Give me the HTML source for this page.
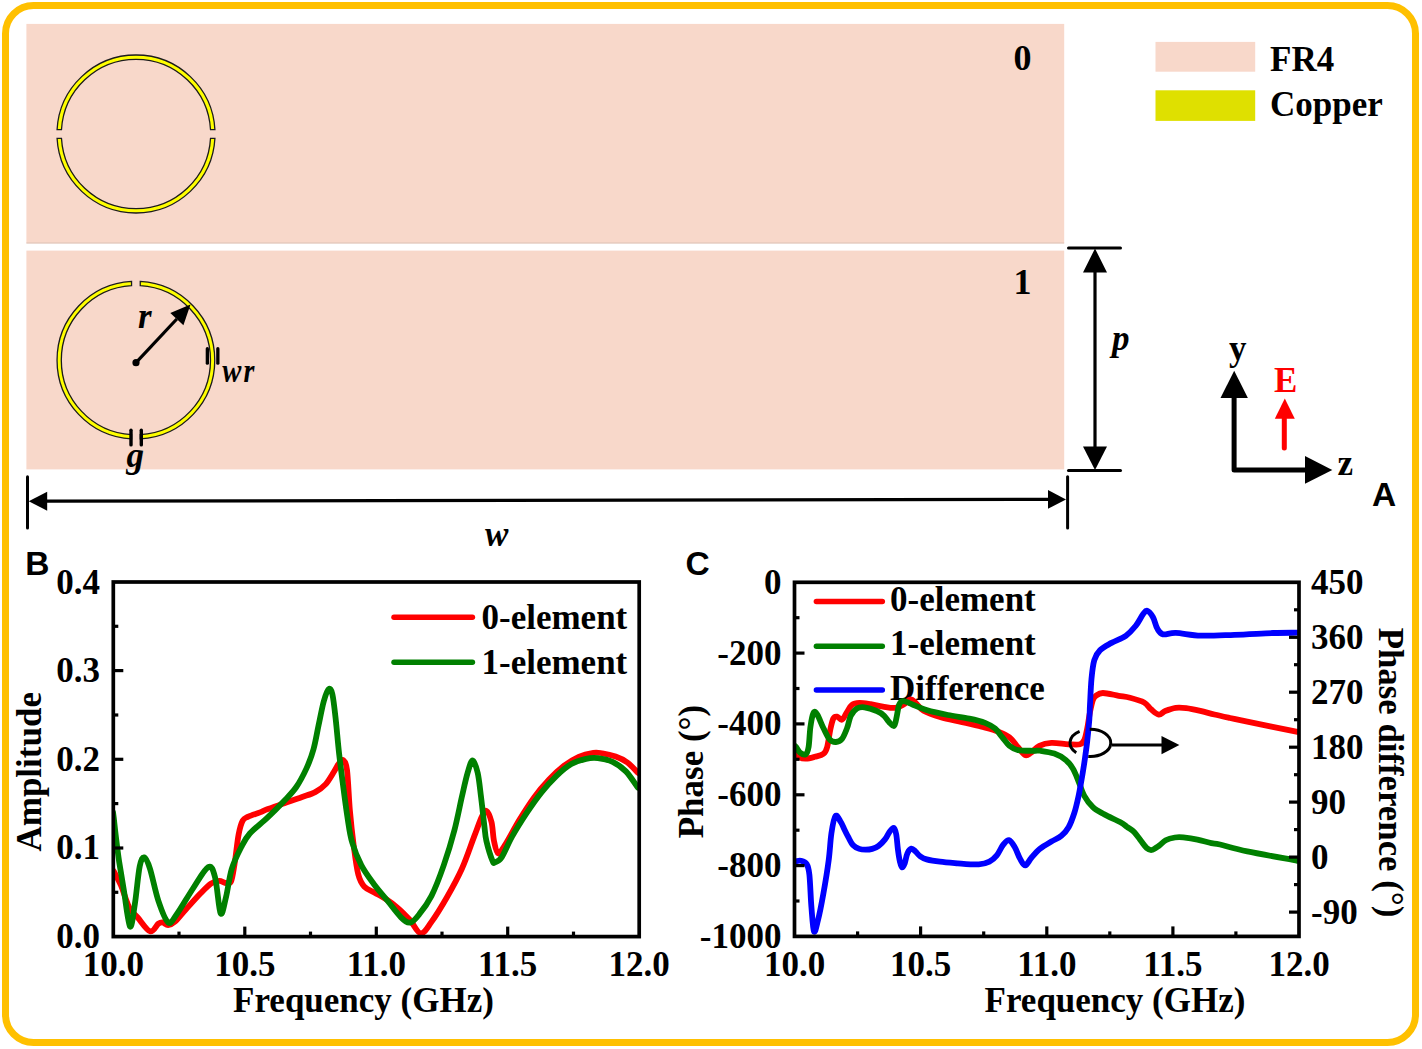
<!DOCTYPE html>
<html><head><meta charset="utf-8"><title>Figure</title><style>
html,body{margin:0;padding:0;background:#fff;width:1422px;height:1049px;overflow:hidden}
svg{display:block}
text{font-family:'Liberation Serif',serif;font-weight:bold}
</style></head><body>
<svg width="1422" height="1049" viewBox="0 0 1422 1049">
<rect x="5.5" y="5.5" width="1410" height="1037" rx="28" ry="28" fill="none" stroke="#FFC000" stroke-width="7"/>
<rect x="26.4" y="23.9" width="1037.8" height="219.4" fill="#F8D8CA"/>
<rect x="26.4" y="250.6" width="1037.8" height="218.8" fill="#F8D8CA"/>
<line x1="26.4" y1="243.0" x2="1064.2" y2="243.0" stroke="#dcc2b6" stroke-width="1"/>
<path d="M214.93 138.30 A79.05 79.05 0 0 1 57.07 138.30 L61.47 138.30 A74.65 74.65 0 0 0 210.53 138.30 Z" fill="#FFFF00" stroke="#1c1c1c" stroke-width="1.3"/><path d="M57.07 129.70 A79.05 79.05 0 0 1 214.93 129.70 L210.53 129.70 A74.65 74.65 0 0 0 61.47 129.70 Z" fill="#FFFF00" stroke="#1c1c1c" stroke-width="1.3"/>
<path d="M131.55 438.93 A78.85 78.85 0 0 1 131.55 281.47 L131.55 285.68 A74.65 74.65 0 0 0 131.55 434.72 Z" fill="#FFFF00" stroke="#1c1c1c" stroke-width="1.3"/><path d="M140.25 281.47 A78.85 78.85 0 0 1 140.25 438.93 L140.25 434.72 A74.65 74.65 0 0 0 140.25 285.68 Z" fill="#FFFF00" stroke="#1c1c1c" stroke-width="1.3"/>
<rect x="129.3" y="428.6" width="3.4" height="18" fill="#000" rx="1.7"/>
<rect x="139.6" y="428.6" width="3.4" height="18" fill="#000" rx="1.7"/>
<rect x="205.7" y="347.1" width="3.3" height="17.7" fill="#000" rx="1.6"/>
<rect x="216.2" y="347.1" width="3.3" height="17.7" fill="#000" rx="1.6"/>
<line x1="136" y1="362.7" x2="176.8" y2="319.0" stroke="#000" stroke-width="3.2"/>
<polygon points="190.5,304.4 183.4,325.2 170.3,312.9" fill="#000"/>
<circle cx="136" cy="362.7" r="3.6" fill="#000"/>
<text x="138" y="328" text-anchor="start" fill="#000" style="font-size:35px;font-style:italic" >r</text>
<text x="0" y="0" text-anchor="start" fill="#000" style="font-size:35px;font-style:italic" transform="translate(222.3,381.5) scale(0.82,0.98)">w</text>
<text x="0" y="0" text-anchor="start" fill="#000" style="font-size:35px;font-style:italic" transform="translate(243.5,381.5) scale(0.8,0.98)">r</text>
<text x="126.5" y="467" text-anchor="start" fill="#000" style="font-size:35px;font-style:italic" >g</text>
<text x="1013.5" y="69.5" text-anchor="start" fill="#000" style="font-size:36px;" >0</text>
<text x="1013.5" y="294" text-anchor="start" fill="#000" style="font-size:36px;" >1</text>
<text x="485" y="546" text-anchor="start" fill="#000" style="font-size:35px;font-style:italic" >w</text>
<text x="1112" y="350" text-anchor="start" fill="#000" style="font-size:35px;font-style:italic" >p</text>
<rect x="1155.5" y="41.9" width="99.7" height="29.8" fill="#F8D8CA"/>
<rect x="1155.5" y="90.3" width="99.7" height="30.6" fill="#DFE000"/>
<text x="1270" y="70.6" text-anchor="start" fill="#000" style="font-size:35px;" >FR4</text>
<text x="1270" y="116" text-anchor="start" fill="#000" style="font-size:35px;" >Copper</text>
<line x1="1068.5" y1="248.1" x2="1120.5" y2="248.1" stroke="#000" stroke-width="3" stroke-linecap="round"/>
<line x1="1068.5" y1="470.4" x2="1120.5" y2="470.4" stroke="#000" stroke-width="3" stroke-linecap="round"/>
<line x1="1095" y1="270" x2="1095" y2="448" stroke="#000" stroke-width="3.2"/>
<polygon points="1095,248.5 1083,272.6 1107,272.6" fill="#000"/>
<polygon points="1095,470 1083,446.4 1107,446.4" fill="#000"/>
<line x1="27.5" y1="476.7" x2="27.5" y2="528" stroke="#000" stroke-width="3" stroke-linecap="round"/>
<line x1="1067.6" y1="476.7" x2="1067.6" y2="528" stroke="#000" stroke-width="3" stroke-linecap="round"/>
<line x1="45" y1="501.2" x2="1050" y2="499.4" stroke="#000" stroke-width="3.2"/>
<polygon points="28.7,501.2 47.2,491.8 47.2,510.7" fill="#000"/>
<polygon points="1066,499.4 1048,490 1048,508.7" fill="#000"/>
<polyline points="1234.1,396 1234.1,469.9 1307,469.9" fill="none" stroke="#000" stroke-width="5" stroke-linejoin="round"/>
<polygon points="1234.2,370.8 1220.5,398 1247.9,398" fill="#000"/>
<polygon points="1332.3,469.9 1305,456 1305,483.7" fill="#000"/>
<text x="1229" y="360" text-anchor="start" fill="#000" style="font-size:35px;" >y</text>
<text x="1337.5" y="474.5" text-anchor="start" fill="#000" style="font-size:35px;" >z</text>
<text x="1274" y="391.6" text-anchor="start" fill="#FF0000" style="font-size:35px;" >E</text>
<line x1="1284.3" y1="448" x2="1284.3" y2="416" stroke="#FF0000" stroke-width="5" stroke-linecap="round"/>
<polygon points="1284.8,398.5 1274.8,418.8 1294.8,418.8" fill="#FF0000"/>
<text x="1372" y="506" style="font-family:'Liberation Sans',sans-serif;font-weight:bold;font-size:33.5px" fill="#000">A</text>
<text x="25.3" y="575" style="font-family:'Liberation Sans',sans-serif;font-weight:bold;font-size:33.5px" fill="#000">B</text>
<text x="685.6" y="574.6" style="font-family:'Liberation Sans',sans-serif;font-weight:bold;font-size:33.5px" fill="#000">C</text>
<text x="100" y="948.1" text-anchor="end" fill="#000" style="font-size:35px;" >0.0</text>
<text x="100" y="859.45" text-anchor="end" fill="#000" style="font-size:35px;" >0.1</text>
<text x="100" y="770.8000000000001" text-anchor="end" fill="#000" style="font-size:35px;" >0.2</text>
<text x="100" y="682.15" text-anchor="end" fill="#000" style="font-size:35px;" >0.3</text>
<text x="100" y="593.5" text-anchor="end" fill="#000" style="font-size:35px;" >0.4</text>
<text x="113.3" y="976" text-anchor="middle" fill="#000" style="font-size:35px;" >10.0</text>
<text x="244.8" y="976" text-anchor="middle" fill="#000" style="font-size:35px;" >10.5</text>
<text x="376.3" y="976" text-anchor="middle" fill="#000" style="font-size:35px;" >11.0</text>
<text x="507.7" y="976" text-anchor="middle" fill="#000" style="font-size:35px;" >11.5</text>
<text x="639.2" y="976" text-anchor="middle" fill="#000" style="font-size:35px;" >12.0</text>
<text x="363.5" y="1012.2" text-anchor="middle" fill="#000" style="font-size:35px;" >Frequency (GHz)</text>
<text x="0" y="0" text-anchor="middle" fill="#000" style="font-size:35px;" transform="translate(41,771.8) rotate(-90)">Amplitude</text>
<text x="781.4" y="593.8" text-anchor="end" fill="#000" style="font-size:35px;" >0</text>
<text x="781.4" y="664.6" text-anchor="end" fill="#000" style="font-size:35px;" >-200</text>
<text x="781.4" y="735.4" text-anchor="end" fill="#000" style="font-size:35px;" >-400</text>
<text x="781.4" y="806.3" text-anchor="end" fill="#000" style="font-size:35px;" >-600</text>
<text x="781.4" y="877.1" text-anchor="end" fill="#000" style="font-size:35px;" >-800</text>
<text x="781.4" y="947.9" text-anchor="end" fill="#000" style="font-size:35px;" >-1000</text>
<text x="1311" y="593.8" text-anchor="start" fill="#000" style="font-size:35px;" >450</text>
<text x="1311" y="648.8" text-anchor="start" fill="#000" style="font-size:35px;" >360</text>
<text x="1311" y="703.7" text-anchor="start" fill="#000" style="font-size:35px;" >270</text>
<text x="1311" y="758.7" text-anchor="start" fill="#000" style="font-size:35px;" >180</text>
<text x="1311" y="813.6" text-anchor="start" fill="#000" style="font-size:35px;" >90</text>
<text x="1311" y="868.6" text-anchor="start" fill="#000" style="font-size:35px;" >0</text>
<text x="1311" y="923.6" text-anchor="start" fill="#000" style="font-size:35px;" >-90</text>
<text x="794.5" y="976" text-anchor="middle" fill="#000" style="font-size:35px;" >10.0</text>
<text x="920.6" y="976" text-anchor="middle" fill="#000" style="font-size:35px;" >10.5</text>
<text x="1046.8" y="976" text-anchor="middle" fill="#000" style="font-size:35px;" >11.0</text>
<text x="1172.9" y="976" text-anchor="middle" fill="#000" style="font-size:35px;" >11.5</text>
<text x="1299.0" y="976" text-anchor="middle" fill="#000" style="font-size:35px;" >12.0</text>
<text x="1115" y="1012.2" text-anchor="middle" fill="#000" style="font-size:35px;" >Frequency (GHz)</text>
<text x="0" y="0" text-anchor="middle" fill="#000" style="font-size:35px;" transform="translate(703,771.5) rotate(-90)">Phase (°)</text>
<text x="0" y="0" text-anchor="middle" fill="#000" style="font-size:34.8px;" transform="translate(1379.2,772.5) rotate(90)">Phase difference (°)</text>
<line x1="394" y1="617.3" x2="472.4" y2="617.3" stroke="#FF0000" stroke-width="5.5" stroke-linecap="round"/>
<line x1="394" y1="662.3" x2="472.4" y2="662.3" stroke="#008000" stroke-width="5.5" stroke-linecap="round"/>
<text x="481.5" y="628.8" text-anchor="start" fill="#000" style="font-size:35px;" >0-element</text>
<text x="481.5" y="673.6" text-anchor="start" fill="#000" style="font-size:35px;" >1-element</text>
<line x1="816.4" y1="601.6" x2="882.3" y2="601.6" stroke="#FF0000" stroke-width="5.5" stroke-linecap="round"/>
<line x1="816.4" y1="646.2" x2="882.3" y2="646.2" stroke="#008000" stroke-width="5.5" stroke-linecap="round"/>
<line x1="816.4" y1="690.1" x2="882.3" y2="690.1" stroke="#0000FF" stroke-width="5.5" stroke-linecap="round"/>
<text x="890" y="611.1" text-anchor="start" fill="#000" style="font-size:35px;" >0-element</text>
<text x="890" y="655.3" text-anchor="start" fill="#000" style="font-size:35px;" >1-element</text>
<text x="890" y="699.8" text-anchor="start" fill="#000" style="font-size:35px;" >Difference</text>
<clipPath id="cb"><rect x="113.3" y="582" width="525.9000000000001" height="354.6"/></clipPath><clipPath id="cc"><rect x="794.5" y="582.3" width="504.5" height="354.1"/></clipPath>
<path clip-path="url(#cb)" d="M112.5 870.5 C112.8 870.7 112.7 869.4 114.1 871.9 C115.5 874.4 118.5 879.7 121.1 885.7 C123.6 891.7 126.6 902.5 129.4 907.8 C132.2 913.1 134.2 913.6 137.7 917.5 C141.1 921.4 146.6 930.3 150.1 931.3 C153.6 932.3 156.3 925.2 158.4 923.7 C160.5 922.2 160.9 922.2 162.5 922.4 C164.1 922.6 166.0 925.2 168.1 925.1 C170.2 925.0 172.0 924.4 175.0 921.7 C178.0 919.1 181.8 913.8 186.0 909.2 C190.2 904.6 195.8 898.3 199.9 894.0 C204.1 889.7 207.7 885.8 210.9 883.6 C214.1 881.4 216.7 881.0 219.2 880.9 C221.7 880.8 224.1 882.9 226.1 883.0 C228.1 883.1 229.6 884.6 231.0 881.6 C232.4 878.6 233.1 872.8 234.4 865.0 C235.7 857.2 237.2 842.0 238.6 834.6 C240.0 827.2 241.1 823.7 242.7 820.7 C244.3 817.7 245.4 818.0 248.3 816.6 C251.2 815.2 256.9 813.6 260.0 812.4 C263.1 811.2 263.1 810.8 267.2 809.3 C271.2 807.8 278.6 805.3 284.3 803.3 C290.0 801.3 296.4 799.2 301.5 797.3 C306.6 795.4 311.2 794.2 315.2 792.1 C319.2 790.0 322.4 787.8 325.5 784.4 C328.6 781.0 331.8 775.1 334.1 771.5 C336.4 767.9 337.6 764.9 339.2 763.0 C340.8 761.1 342.2 759.3 343.5 760.4 C344.8 761.5 345.9 761.4 347.0 769.8 C348.1 778.1 348.8 797.9 349.9 810.5 C351.0 823.1 352.3 834.9 353.7 845.6 C355.1 856.3 356.5 867.7 358.3 874.6 C360.1 881.5 361.6 883.8 364.4 886.8 C367.2 889.8 371.5 890.9 375.1 892.9 C378.7 894.9 382.0 896.5 385.8 899.0 C389.6 901.5 393.9 904.6 398.0 908.1 C402.1 911.6 406.4 916.1 410.2 920.3 C414.0 924.5 417.2 933.0 420.8 933.3 C424.4 933.6 427.2 927.9 431.5 921.9 C435.8 915.9 441.7 906.4 446.8 897.5 C451.9 888.6 457.4 878.7 462.0 868.5 C466.6 858.3 470.9 845.0 474.2 836.4 C477.5 827.8 479.8 820.8 481.9 816.6 C483.9 812.4 484.9 810.1 486.5 811.0 C488.1 811.9 490.2 817.0 491.5 822.0 C492.8 827.0 492.9 835.8 494.0 841.0 C495.1 846.2 496.3 852.7 498.1 853.4 C499.9 854.1 501.2 851.0 504.8 845.4 C508.4 839.8 514.7 827.6 519.6 819.6 C524.5 811.6 529.4 803.9 534.3 797.2 C539.2 790.5 544.2 784.8 549.1 779.6 C554.0 774.4 559.0 769.7 563.9 765.9 C568.8 762.1 573.8 759.0 578.7 756.8 C583.6 754.6 589.5 753.4 593.4 752.8 C597.3 752.2 598.6 752.7 602.3 753.3 C606.0 753.9 611.4 755.1 615.6 756.6 C619.8 758.1 623.7 759.8 627.4 762.5 C631.1 765.2 636.1 771.1 637.8 772.8" fill="none" stroke="#FF0000" stroke-width="5.8" stroke-linejoin="round" stroke-linecap="round"/>
<path clip-path="url(#cb)" d="M113.0 812.0 C113.1 813.0 113.2 813.3 113.8 818.0 C114.3 822.7 115.4 832.7 116.3 840.0 C117.2 847.3 118.0 853.7 119.2 862.0 C120.5 870.3 122.0 879.1 123.8 889.9 C125.6 900.6 128.2 924.2 130.0 926.5 C131.8 928.8 133.3 913.7 134.9 903.7 C136.5 893.7 138.1 874.1 139.7 866.4 C141.3 858.7 142.6 856.9 144.3 857.4 C146.0 857.9 147.8 861.9 150.1 869.1 C152.4 876.4 155.4 892.0 158.4 900.9 C161.4 909.8 165.1 920.1 168.1 922.4 C171.1 924.7 172.2 920.4 176.4 914.8 C180.6 909.1 187.7 896.5 193.0 888.5 C198.3 880.5 204.5 869.0 208.2 867.1 C211.9 865.2 213.0 869.7 215.1 877.4 C217.2 885.1 218.8 910.2 220.6 913.4 C222.4 916.6 224.2 904.2 226.1 896.8 C227.9 889.4 229.2 877.4 231.7 869.1 C234.2 860.8 238.2 853.0 241.3 847.0 C244.4 841.0 245.7 838.1 250.0 833.3 C254.3 828.4 261.5 823.3 267.2 817.9 C272.9 812.5 279.4 805.9 284.3 800.7 C289.2 795.6 292.6 792.4 296.3 787.0 C300.0 781.6 303.7 774.4 306.6 768.1 C309.5 761.8 311.5 756.4 313.5 749.2 C315.5 742.1 316.9 733.2 318.6 725.2 C320.3 717.2 322.1 707.2 323.8 701.2 C325.5 695.2 327.2 690.4 328.6 689.2 C330.0 688.1 331.2 689.1 332.4 694.3 C333.6 699.4 334.7 710.1 335.8 720.1 C336.9 730.1 337.9 743.0 339.2 754.4 C340.5 765.8 342.1 777.8 343.5 788.7 C344.9 799.6 346.4 810.6 347.8 819.6 C349.2 828.6 349.9 834.9 352.2 842.5 C354.5 850.1 357.8 858.5 361.4 865.4 C365.0 872.3 369.3 877.9 373.6 883.7 C377.9 889.6 382.7 894.9 387.3 900.5 C391.9 906.1 397.2 913.6 401.0 917.3 C404.8 921.0 407.1 923.1 410.2 922.6 C413.2 922.1 415.8 918.7 419.3 914.2 C422.9 909.8 427.4 904.0 431.5 895.9 C435.6 887.8 439.9 876.3 443.7 865.4 C447.5 854.5 451.4 841.8 454.4 830.3 C457.4 818.8 459.7 806.3 461.9 796.7 C464.1 787.1 465.8 778.9 467.6 772.9 C469.4 766.9 470.9 760.5 472.6 760.5 C474.3 760.5 476.3 766.9 477.7 772.9 C479.1 778.9 479.9 788.0 481.0 796.7 C482.1 805.4 483.4 817.9 484.3 825.3 C485.2 832.7 485.0 835.1 486.4 841.0 C487.8 846.9 491.0 857.3 492.5 860.8 C494.0 864.3 493.6 862.8 495.2 862.2 C496.8 861.6 499.0 861.4 501.8 857.1 C504.6 852.8 508.0 843.8 512.2 836.4 C516.4 829.0 522.0 820.1 526.9 812.7 C531.8 805.3 536.8 798.2 541.7 792.1 C546.6 786.0 551.6 780.5 556.5 775.8 C561.4 771.1 566.4 766.8 571.3 764.0 C576.2 761.2 581.6 759.8 586.0 758.8 C590.4 757.8 593.5 757.6 597.9 758.1 C602.3 758.6 607.9 759.6 612.6 761.8 C617.3 764.0 621.7 767.1 625.9 771.4 C630.1 775.7 635.8 784.9 637.8 787.6" fill="none" stroke="#008000" stroke-width="5.8" stroke-linejoin="round" stroke-linecap="round"/>
<path clip-path="url(#cc)" d="M793.0 750.8 C793.5 751.1 794.9 751.4 796.0 752.5 C797.1 753.6 798.2 756.5 799.9 757.5 C801.6 758.5 803.6 758.8 806.1 758.7 C808.6 758.6 811.9 757.6 814.8 756.8 C817.7 756.0 821.4 755.4 823.5 753.7 C825.6 752.1 826.1 750.9 827.2 746.9 C828.3 742.9 829.3 734.4 830.3 729.6 C831.3 724.9 832.3 720.6 833.4 718.4 C834.5 716.2 835.7 716.4 837.1 716.6 C838.5 716.8 840.4 720.4 842.0 719.7 C843.6 719.0 845.3 714.7 847.0 712.2 C848.7 709.7 849.9 706.3 852.0 704.8 C854.1 703.2 856.3 703.0 859.4 702.9 C862.5 702.8 866.7 703.6 870.6 704.2 C874.5 704.8 878.8 706.0 882.9 706.6 C887.0 707.2 891.8 708.3 895.3 707.9 C898.8 707.5 901.5 705.6 904.0 704.2 C906.5 702.8 908.4 699.6 910.5 699.5 C912.6 699.4 914.2 701.7 916.4 703.6 C918.6 705.5 919.5 708.4 923.6 710.7 C927.7 713.0 934.4 715.3 940.8 717.2 C947.2 719.1 955.1 720.5 962.2 722.2 C969.4 723.9 977.7 725.7 983.7 727.2 C989.7 728.8 993.7 729.8 998.0 731.5 C1002.3 733.2 1006.1 734.6 1009.4 737.2 C1012.7 739.8 1015.4 744.2 1018.0 747.2 C1020.6 750.2 1023.0 754.2 1025.1 755.1 C1027.2 756.0 1028.4 754.5 1030.8 752.9 C1033.2 751.3 1036.0 747.5 1039.4 745.8 C1042.8 744.1 1046.5 743.1 1051.4 742.9 C1056.3 742.6 1063.8 744.1 1068.6 744.3 C1073.4 744.5 1077.4 745.0 1080.0 744.3 C1082.6 743.6 1083.1 742.6 1084.3 740.0 C1085.5 737.4 1086.2 733.3 1087.2 728.6 C1088.2 723.9 1089.0 716.8 1090.0 712.0 C1091.0 707.2 1091.9 702.7 1092.9 700.0 C1093.9 697.3 1094.1 697.0 1095.8 695.8 C1097.5 694.6 1099.1 693.0 1102.9 693.0 C1106.7 693.0 1114.2 695.0 1118.7 695.8 C1123.2 696.6 1125.8 696.7 1130.0 697.8 C1134.2 698.9 1140.6 700.6 1144.1 702.5 C1147.6 704.4 1148.6 707.3 1151.1 709.3 C1153.5 711.3 1156.4 714.3 1158.8 714.6 C1161.2 714.9 1162.4 712.1 1165.2 711.0 C1168.0 709.9 1172.2 708.3 1175.7 707.8 C1179.2 707.3 1182.2 707.6 1186.3 708.1 C1190.4 708.6 1195.6 709.8 1200.3 710.9 C1205.0 712.0 1209.5 713.3 1214.4 714.5 C1219.4 715.7 1224.5 716.8 1230.0 718.0 C1235.5 719.2 1236.0 719.3 1247.3 721.6 C1258.5 723.9 1289.1 730.2 1297.5 731.9" fill="none" stroke="#FF0000" stroke-width="5.8" stroke-linejoin="round" stroke-linecap="round"/>
<path clip-path="url(#cc)" d="M793.0 744.5 C793.5 744.9 794.9 745.6 796.0 746.9 C797.1 748.2 798.3 751.2 799.9 752.5 C801.5 753.8 804.0 755.3 805.5 754.4 C807.0 753.5 807.8 751.4 808.6 746.9 C809.4 742.4 809.6 732.8 810.4 727.1 C811.2 721.4 812.4 714.9 813.5 712.8 C814.6 710.7 815.6 712.1 817.3 714.7 C819.0 717.3 821.4 724.2 823.5 728.3 C825.6 732.4 827.6 737.2 829.7 739.5 C831.8 741.8 833.9 742.1 835.9 742.0 C837.9 741.9 840.1 741.2 842.0 738.9 C843.9 736.6 845.5 732.1 847.0 728.3 C848.5 724.5 849.1 719.2 850.7 715.9 C852.4 712.6 854.6 709.9 856.9 708.5 C859.2 707.1 861.1 706.9 864.4 707.3 C867.7 707.7 873.5 709.6 876.8 711.0 C880.1 712.4 882.2 714.0 884.2 715.9 C886.2 717.8 887.5 720.4 889.1 722.1 C890.8 723.8 892.9 726.7 894.1 725.9 C895.4 725.1 895.8 720.7 896.6 717.2 C897.4 713.7 898.1 707.5 899.1 704.8 C900.1 702.1 901.1 701.4 902.8 701.1 C904.4 700.8 907.2 702.2 909.0 702.9 C910.8 703.5 910.7 703.8 913.6 705.0 C916.5 706.2 920.8 708.3 926.5 710.0 C932.2 711.7 940.8 713.6 947.9 715.0 C955.0 716.4 963.1 717.3 969.3 718.6 C975.5 719.9 980.8 721.2 985.1 722.9 C989.4 724.6 992.2 726.2 995.1 728.6 C998.0 731.0 999.8 734.3 1002.2 737.2 C1004.6 740.1 1006.8 743.6 1009.4 745.8 C1012.0 747.9 1014.0 749.3 1018.0 750.1 C1022.0 750.9 1030.0 750.7 1033.7 750.8 C1037.4 750.9 1036.6 750.2 1040.0 750.7 C1043.4 751.2 1050.0 752.1 1054.3 753.6 C1058.6 755.1 1062.6 757.5 1065.7 760.0 C1068.8 762.5 1070.8 765.0 1072.9 768.6 C1075.1 772.2 1076.7 777.0 1078.6 781.5 C1080.5 786.0 1081.9 791.5 1084.3 795.8 C1086.7 800.1 1089.6 804.1 1092.9 807.2 C1096.2 810.3 1099.9 811.9 1104.4 814.4 C1108.9 816.9 1116.2 819.9 1120.0 822.0 C1123.8 824.1 1124.7 825.1 1127.0 826.8 C1129.3 828.4 1131.8 829.5 1134.1 831.9 C1136.4 834.3 1139.0 838.3 1141.1 841.0 C1143.2 843.7 1145.0 846.5 1146.7 848.0 C1148.5 849.5 1149.6 850.3 1151.6 850.0 C1153.6 849.7 1156.3 847.6 1158.7 846.0 C1161.1 844.4 1163.0 841.7 1165.7 840.3 C1168.4 838.9 1172.0 838.0 1174.9 837.5 C1177.8 837.0 1179.5 837.0 1183.3 837.4 C1187.0 837.8 1192.7 838.6 1197.4 839.6 C1202.1 840.6 1207.6 842.3 1211.4 843.1 C1215.2 843.9 1214.0 843.1 1220.0 844.5 C1226.0 845.9 1234.4 848.7 1247.3 851.4 C1260.2 854.1 1289.1 859.2 1297.5 860.8" fill="none" stroke="#008000" stroke-width="5.8" stroke-linejoin="round" stroke-linecap="round"/>
<path clip-path="url(#cc)" d="M793.0 861.6 C793.5 861.6 794.7 861.5 796.0 861.4 C797.3 861.2 798.9 860.2 800.7 860.7 C802.5 861.2 805.2 861.8 806.7 864.1 C808.2 866.4 808.6 867.6 809.4 874.7 C810.2 881.8 810.6 897.3 811.4 906.8 C812.2 916.3 812.9 929.3 814.0 931.5 C815.1 933.7 816.4 926.5 818.0 920.1 C819.6 913.8 821.6 903.4 823.4 893.4 C825.2 883.4 827.4 870.1 828.7 860.1 C830.0 850.1 830.3 840.8 831.4 833.4 C832.5 826.0 833.8 817.9 835.4 816.0 C837.0 814.1 839.2 819.6 840.7 821.8 C842.2 824.0 843.0 826.6 844.3 829.2 C845.6 831.9 847.2 835.1 848.6 837.7 C850.0 840.3 851.1 843.1 852.9 845.0 C854.7 846.9 857.2 848.1 859.3 848.9 C861.4 849.7 863.6 849.7 865.7 849.7 C867.9 849.7 870.1 849.5 872.2 848.9 C874.4 848.3 876.5 847.5 878.6 845.9 C880.7 844.3 883.2 841.7 885.0 839.4 C886.8 837.1 887.9 834.1 889.3 832.2 C890.7 830.3 892.5 827.5 893.6 827.9 C894.8 828.2 895.5 830.7 896.2 834.3 C896.9 837.9 897.3 844.7 897.9 849.3 C898.5 853.9 899.3 859.0 900.0 862.0 C900.7 865.0 901.2 867.2 902.0 867.4 C902.8 867.6 903.8 865.7 904.7 863.4 C905.6 861.1 906.3 855.8 907.4 853.4 C908.5 851.0 910.1 849.0 911.4 848.7 C912.7 848.4 914.0 850.2 915.4 851.4 C916.8 852.6 918.1 854.8 920.0 856.1 C921.9 857.4 923.4 858.5 926.7 859.4 C930.0 860.3 934.8 861.1 940.0 861.7 C945.2 862.4 951.2 862.8 957.7 863.3 C964.2 863.8 973.5 864.7 978.8 864.4 C984.1 864.1 986.4 863.2 989.4 861.7 C992.4 860.2 994.5 858.2 996.8 855.4 C999.1 852.6 1001.1 847.4 1003.1 844.9 C1005.1 842.4 1007.0 839.8 1008.9 840.1 C1010.8 840.5 1012.9 843.9 1014.7 847.0 C1016.6 850.1 1018.2 855.5 1020.0 858.6 C1021.8 861.7 1023.4 865.6 1025.3 865.4 C1027.2 865.2 1029.1 860.3 1031.6 857.5 C1034.0 854.7 1036.7 851.4 1040.0 848.7 C1043.3 846.0 1047.8 843.6 1051.4 841.5 C1055.0 839.4 1058.5 838.2 1061.4 835.8 C1064.3 833.4 1066.4 831.0 1068.6 827.2 C1070.8 823.4 1072.6 818.2 1074.3 813.0 C1076.0 807.8 1077.4 801.3 1078.6 795.8 C1079.8 790.3 1080.5 785.6 1081.5 780.1 C1082.5 774.6 1083.3 769.4 1084.3 762.9 C1085.2 756.4 1086.4 748.5 1087.2 741.4 C1088.0 734.2 1088.8 726.2 1089.3 720.0 C1089.8 713.8 1089.6 711.3 1090.0 704.4 C1090.4 697.5 1090.8 686.1 1091.5 678.7 C1092.2 671.3 1092.9 664.9 1094.3 660.1 C1095.7 655.3 1097.2 653.0 1100.1 650.1 C1103.0 647.2 1107.2 645.3 1111.5 642.9 C1115.8 640.5 1121.8 638.6 1125.8 635.8 C1129.8 632.9 1132.9 629.4 1135.8 625.8 C1138.7 622.2 1141.1 616.8 1143.0 614.3 C1144.9 611.8 1145.5 610.2 1147.2 610.7 C1148.9 611.2 1151.3 614.2 1153.0 617.2 C1154.7 620.2 1155.6 625.8 1157.3 628.6 C1159.0 631.5 1159.9 633.6 1163.0 634.3 C1166.1 635.0 1169.5 632.7 1175.8 632.9 C1182.1 633.1 1191.1 635.3 1200.9 635.6 C1210.7 635.9 1222.4 635.2 1234.4 634.8 C1246.4 634.4 1262.6 633.4 1273.1 633.0 C1283.6 632.6 1293.4 632.8 1297.5 632.7" fill="none" stroke="#0000FF" stroke-width="5.8" stroke-linejoin="round" stroke-linecap="round"/>
<path d="M1089.69 729.31 A20.4 13.6 0 1 1 1088.27 756.43" fill="none" stroke="#000" stroke-width="3"/>
<path d="M1079.59 731.37 A20.4 13.6 0 0 0 1076.23 752.68" fill="none" stroke="#000" stroke-width="3"/>
<line x1="1112" y1="745" x2="1163" y2="745" stroke="#000" stroke-width="2.8"/>
<polygon points="1179.4,745 1161.5,736 1161.5,754.3" fill="#000"/>
<line x1="179.0" y1="936.6" x2="179.0" y2="931.6" stroke="#000" stroke-width="3.2"/>
<line x1="244.8" y1="936.6" x2="244.8" y2="926.6" stroke="#000" stroke-width="3.2"/>
<line x1="310.5" y1="936.6" x2="310.5" y2="931.6" stroke="#000" stroke-width="3.2"/>
<line x1="376.3" y1="936.6" x2="376.3" y2="926.6" stroke="#000" stroke-width="3.2"/>
<line x1="442.0" y1="936.6" x2="442.0" y2="931.6" stroke="#000" stroke-width="3.2"/>
<line x1="507.7" y1="936.6" x2="507.7" y2="926.6" stroke="#000" stroke-width="3.2"/>
<line x1="573.5" y1="936.6" x2="573.5" y2="931.6" stroke="#000" stroke-width="3.2"/>
<line x1="113.3" y1="892.3" x2="118.3" y2="892.3" stroke="#000" stroke-width="3.2"/>
<line x1="113.3" y1="848.0" x2="123.3" y2="848.0" stroke="#000" stroke-width="3.2"/>
<line x1="113.3" y1="803.6" x2="118.3" y2="803.6" stroke="#000" stroke-width="3.2"/>
<line x1="113.3" y1="759.3" x2="123.3" y2="759.3" stroke="#000" stroke-width="3.2"/>
<line x1="113.3" y1="715.0" x2="118.3" y2="715.0" stroke="#000" stroke-width="3.2"/>
<line x1="113.3" y1="670.6" x2="123.3" y2="670.6" stroke="#000" stroke-width="3.2"/>
<line x1="113.3" y1="626.3" x2="118.3" y2="626.3" stroke="#000" stroke-width="3.2"/>
<rect x="113.3" y="582" width="525.9" height="354.6" fill="none" stroke="#000" stroke-width="3.7"/>
<line x1="857.6" y1="936.4" x2="857.6" y2="931.4" stroke="#000" stroke-width="3.2"/>
<line x1="920.6" y1="936.4" x2="920.6" y2="926.4" stroke="#000" stroke-width="3.2"/>
<line x1="983.7" y1="936.4" x2="983.7" y2="931.4" stroke="#000" stroke-width="3.2"/>
<line x1="1046.8" y1="936.4" x2="1046.8" y2="926.4" stroke="#000" stroke-width="3.2"/>
<line x1="1109.8" y1="936.4" x2="1109.8" y2="931.4" stroke="#000" stroke-width="3.2"/>
<line x1="1172.9" y1="936.4" x2="1172.9" y2="926.4" stroke="#000" stroke-width="3.2"/>
<line x1="1235.9" y1="936.4" x2="1235.9" y2="931.4" stroke="#000" stroke-width="3.2"/>
<line x1="794.5" y1="617.7" x2="799.5" y2="617.7" stroke="#000" stroke-width="3.2"/>
<line x1="794.5" y1="653.1" x2="804.5" y2="653.1" stroke="#000" stroke-width="3.2"/>
<line x1="794.5" y1="688.5" x2="799.5" y2="688.5" stroke="#000" stroke-width="3.2"/>
<line x1="794.5" y1="723.9" x2="804.5" y2="723.9" stroke="#000" stroke-width="3.2"/>
<line x1="794.5" y1="759.3" x2="799.5" y2="759.3" stroke="#000" stroke-width="3.2"/>
<line x1="794.5" y1="794.8" x2="804.5" y2="794.8" stroke="#000" stroke-width="3.2"/>
<line x1="794.5" y1="830.2" x2="799.5" y2="830.2" stroke="#000" stroke-width="3.2"/>
<line x1="794.5" y1="865.6" x2="804.5" y2="865.6" stroke="#000" stroke-width="3.2"/>
<line x1="794.5" y1="901.0" x2="799.5" y2="901.0" stroke="#000" stroke-width="3.2"/>
<line x1="1299" y1="912.1" x2="1289" y2="912.1" stroke="#000" stroke-width="3.2"/>
<line x1="1299" y1="884.6" x2="1294" y2="884.6" stroke="#000" stroke-width="3.2"/>
<line x1="1299" y1="857.1" x2="1289" y2="857.1" stroke="#000" stroke-width="3.2"/>
<line x1="1299" y1="829.6" x2="1294" y2="829.6" stroke="#000" stroke-width="3.2"/>
<line x1="1299" y1="802.1" x2="1289" y2="802.1" stroke="#000" stroke-width="3.2"/>
<line x1="1299" y1="774.7" x2="1294" y2="774.7" stroke="#000" stroke-width="3.2"/>
<line x1="1299" y1="747.2" x2="1289" y2="747.2" stroke="#000" stroke-width="3.2"/>
<line x1="1299" y1="719.7" x2="1294" y2="719.7" stroke="#000" stroke-width="3.2"/>
<line x1="1299" y1="692.2" x2="1289" y2="692.2" stroke="#000" stroke-width="3.2"/>
<line x1="1299" y1="664.7" x2="1294" y2="664.7" stroke="#000" stroke-width="3.2"/>
<line x1="1299" y1="637.3" x2="1289" y2="637.3" stroke="#000" stroke-width="3.2"/>
<line x1="1299" y1="609.8" x2="1294" y2="609.8" stroke="#000" stroke-width="3.2"/>
<rect x="794.5" y="582.3" width="504.5" height="354.1" fill="none" stroke="#000" stroke-width="3.7"/>
</svg>
</body></html>
